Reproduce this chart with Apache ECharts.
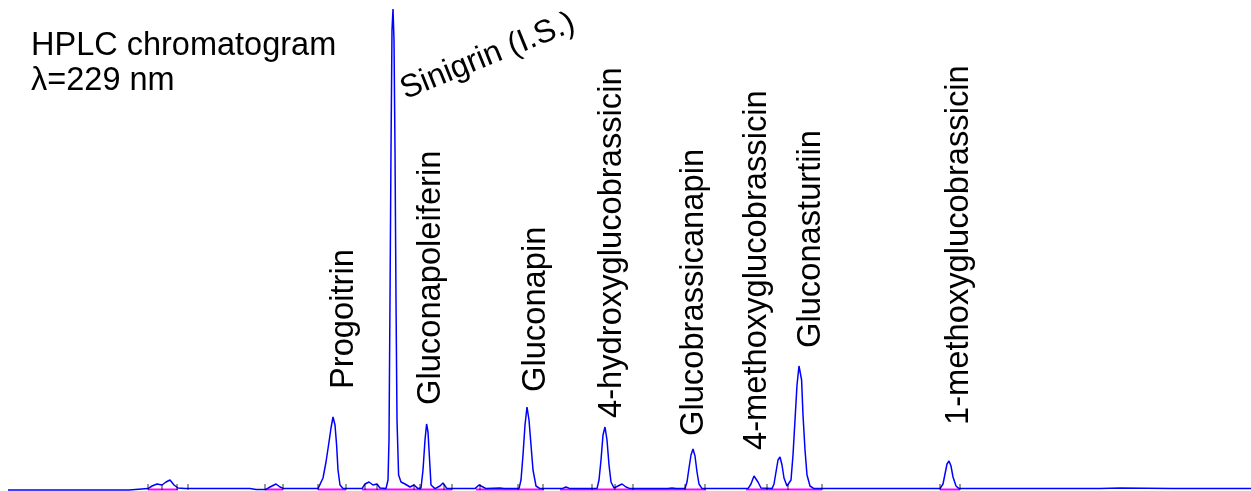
<!DOCTYPE html>
<html><head><meta charset="utf-8">
<script src="https://cdn.jsdelivr.net/npm/echarts@6/dist/echarts.min.js"></script>
<style>html,body{margin:0;padding:0;background:#fff}#c{width:1251px;height:491px}</style>
</head><body><div id="c"></div>
<script>
// Retention time (min) / absorbance (mAU) pairs
const trace = [
[0.4,-0.25],[6.45,-0.25],[6.5,0.1],[7.4,0.1],[7.6,0.75],[7.85,1.25],[8.1,1.0],[8.3,1.75],[8.5,2.25],[8.7,1.0],[8.9,0.25],[9.25,0.1],
[12.5,0.1],[12.8,-0.1],[13.3,-0.1],[13.5,0.5],[13.8,1.25],[14.0,0.5],[14.2,0.1],
[15.9,0.1],[16.0,0.5],[16.15,2.75],[16.3,6.75],[16.45,11.75],[16.55,15.25],[16.65,18],[16.75,16],[16.83,11],[16.9,4.75],[17.0,1],[17.15,0.1],
[18.1,0.1],[18.25,1.25],[18.45,1.75],[18.65,1],[18.85,1.25],[19.0,0.25],[19.3,0.1],
[19.4,2.25],[19.45,12.25],[19.5,47.25],[19.55,84.75],[19.6,114.75],[19.65,120],[19.7,112.25],[19.75,84.75],[19.8,47.25],[19.85,17.25],[19.93,3.5],[20.05,1.75],[20.25,1.25],[20.5,0.5],[20.7,1],[20.9,0.1],
[21.05,0.25],[21.15,4.75],[21.25,12.25],[21.33,16.25],[21.4,14.25],[21.48,7.25],[21.55,1],[21.75,0.1],[22.0,0.75],[22.15,1.5],[22.35,0.1],
[23.75,0.1],[23.95,1],[24.15,0.5],[24.3,0.1],[25.0,0.25],[25.2,0.1],
[25.95,0.1],[26.05,2.25],[26.15,8.5],[26.25,16],[26.35,20.5],[26.45,17.25],[26.55,11],[26.65,4.75],[26.8,0.75],[27.0,0.1],
[28.1,0.1],[28.3,0.5],[28.5,0.1],
[29.85,0.1],[29.95,2.25],[30.05,7.25],[30.15,13.5],[30.25,15.5],[30.35,12.25],[30.45,6],[30.55,1.75],[30.7,0.25],[30.9,0.75],[31.1,1.25],[31.3,0.5],[31.5,0.1],
[33.4,0.1],[33.6,0.25],[33.8,0.1],
[34.25,0.1],[34.35,1.75],[34.45,5.25],[34.55,8.5],[34.65,10],[34.75,8.25],[34.85,4.25],[34.95,1.25],[35.1,0.1],
[37.4,0.1],[37.55,1.25],[37.7,3.25],[37.8,3.25],[37.9,1.75],[38.05,0.25],[38.6,0.1],
[38.7,1.25],[38.8,4.25],[38.9,7.25],[39.0,8],[39.1,6],[39.2,2.75],[39.35,0.75],[39.45,0.4],
[39.55,2.25],[39.65,8.5],[39.75,17.25],[39.85,26],[39.95,30.75],[40.0,31],[40.08,27.25],[40.15,18.5],[40.25,9.75],[40.35,3.5],[40.5,0.75],[40.7,0.1],
[45.4,0.1],[45.5,0.25],[45.6,0.1],
[47.0,0.1],[47.15,1.25],[47.25,3.75],[47.35,6.25],[47.45,7],[47.55,5.75],[47.65,3],[47.8,0.75],[47.95,0.1],
[50.0,0.1],[50.1,0.25],[50.2,0.1],[52.5,0.1],[52.6,0.25],[52.7,0.1],[55.0,0.1],[56.0,0.25],[56.1,0.1],[58.6,0.1],[58.7,0.25],[58.8,0.1],[62.55,0.1]
];
// Integration baseline segments (start, end retention time)
const integrationSegments = [[7.4,8.9],[13.25,14.15],[15.9,17.3],[18.1,22.6],[23.8,27.2],[28.0,35.3],[37.3,41.1],[47.0,48.0]];
// Peak boundary tick marks (retention time)
const boundaryTicks = [7.4,8.1,8.85,9.4,13.25,14.15,15.9,17.3,18.25,18.85,20.7,21.0,22.2,22.6,24.0,25.9,27.15,29.6,30.75,31.65,34.25,35.25,38.35,39.4,41.1,47.0,48.0];
// Peak labels
const peakNames = ["Progoitrin","Gluconapoleiferin","Gluconapin","4-hydroxyglucobrassicin","Glucobrassicanapin","4-methoxyglucobrassicin","Gluconasturtiin","1-methoxyglucobrassicin"];
const isLabel = "Sinigrin (I.S.)";
const titleLines = ["HPLC chromatogram","λ=229 nm"];

// Layout (pixels) for annotation text
const labelPos = [[344,389],[431,405],[536,392],[612,418],[694,436],[757,450],[811,348],[959,425]];
const FONT = '"Liberation Sans", Arial, sans-serif';

const segData = [];
integrationSegments.forEach(s => { segData.push([s[0],-0.1],[s[1],-0.1],[null,null]); });

const graphics = [];
peakNames.forEach((n,i) => {
  graphics.push({type:'text', x:labelPos[i][0], y:labelPos[i][1], rotation:Math.PI/2,
    style:{text:n, font:'32.7px '+FONT, fill:'#000', textAlign:'left', textVerticalAlign:'middle'}});
});
graphics.push({type:'text', x:402, y:91, rotation:22*Math.PI/180,
  style:{text:isLabel, font:'32px '+FONT, fill:'#000', textAlign:'left', textVerticalAlign:'middle'}});
titleLines.forEach((t,i) => {
  graphics.push({type:'text', x:31, y:46+i*35,
    style:{text:t, font:'32.5px '+FONT, fill:'#000', textAlign:'left', textVerticalAlign:'middle'}});
});

const chart = echarts.init(document.getElementById('c'), null, {renderer:'canvas'});
chart.setOption({
  animation:false,
  backgroundColor:'#fff',
  grid:{left:0,right:0,top:0,bottom:0},
  xAxis:{type:'value', min:0, max:62.55, show:false},
  yAxis:{type:'value', min:-0.5, max:122.25, show:false},
  series:[
    {type:'line', data:segData, showSymbol:false, clip:false, connectNulls:false,
     lineStyle:{color:'#ff00ff', width:2}, z:1},
    {type:'line', data:trace, showSymbol:false, clip:false,
     lineStyle:{color:'#0000ff', width:1.5}, z:2},
    {type:'scatter', data:boundaryTicks.map(t=>[t,0.5]), symbol:'rect', symbolSize:[1,6],
     itemStyle:{color:'#000'}, z:3}
  ],
  graphic:graphics
});
</script>
</body></html>
